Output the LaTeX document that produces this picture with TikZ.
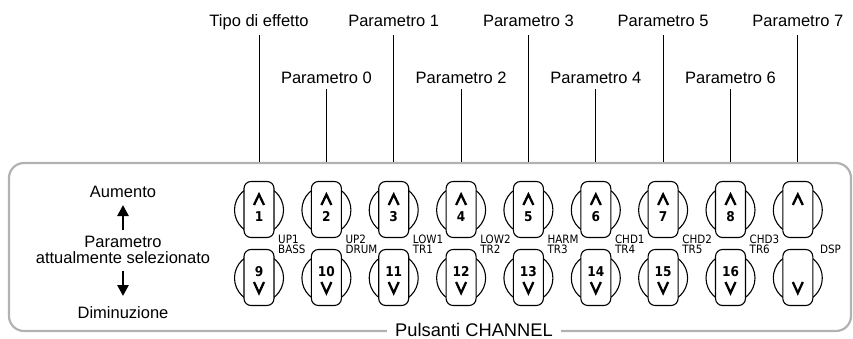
\documentclass[tikz,border=0pt]{standalone}
\usepackage{fontspec}
\setmainfont{Liberation Sans}
\newfontfamily\dinfont{DejaVu Sans Condensed}
\usetikzlibrary{arrows.meta}
\begin{document}
\begin{tikzpicture}[x=1pt,y=-1pt,
  lbl/.style={font=\fontsize{16.5}{16.5}\selectfont, inner sep=0pt, anchor=base},
  title/.style={font=\fontsize{18.3}{18.3}\selectfont, inner xsep=8.5pt, inner ysep=2pt, anchor=base, fill=white},
  small/.style={font=\dinfont\fontsize{11.5}{11.5}\selectfont, inner sep=0pt, anchor=base west},
  num/.style={font=\dinfont\bfseries\fontsize{13.5}{13.5}\selectfont, inner sep=0pt, anchor=base},
  ring/.style={draw, circle, minimum size=49pt, inner sep=0pt, line width=1.1pt},
  keybox/.style={draw, fill=white, rounded corners=7pt, minimum width=30pt, minimum height=56pt, inner sep=0pt, line width=1.1pt},
  chev/.style={line width=2.3pt, line join=miter},
  conn/.style={line width=1pt},
  bigarrow/.style={line width=2.6pt, -{Triangle[width=11pt,length=11pt]}},
  panel/.style={draw=black!30, line width=2.2pt, rounded corners=15pt}
]
\useasboundingbox (0,0) rectangle (853,339);

% panel
\draw[panel] (9,163) rectangle (851,331);
\node[title] (ttl) at (474,336.5) {Pulsanti CHANNEL};

% buttons
\foreach \i/\x in {1/259,2/326.4,3/393.7,4/461.1,5/528.4,6/595.8,7/663.1,8/730.5,9/797.8}{
  \node[ring] (ru\i) at (\x,210) {};
  \node[keybox] (ku\i) at (\x,209.5) {};
  \node[ring] (rd\i) at (\x,278) {};
  \node[keybox] (kd\i) at (\x,277.5) {};
  \draw[chev] ([shift={(-5pt,4.5pt)}]ku\i.center) -- ++(5pt,10.5pt) -- ++(5pt,-10.5pt);
  \draw[chev] ([shift={(-5pt,-4.5pt)}]kd\i.center) -- ++(5pt,-11pt) -- ++(5pt,11pt);
  \coordinate (t\i) at (\x,162);
}
\foreach \i/\n in {1/1,2/2,3/3,4/4,5/5,6/6,7/7,8/8}{
  \node[num] (nu\i) at ([yshift=-12.2pt]ku\i.center) {\n};
}
\foreach \i/\n in {1/9,2/10,3/11,4/12,5/13,6/14,7/15,8/16}{
  \node[num] (nd\i) at ([yshift=1.5pt]kd\i.center) {\n};
}

% small labels
\foreach \i/\a/\b in {1/UP1/BASS,2/UP2/DRUM,3/LOW1/TR1,4/LOW2/TR2,5/HARM/TR3,6/CHD1/TR4,7/CHD2/TR5,8/CHD3/TR6}{
  \node[small] (sa\i) at ([shift={(19pt,-33.5pt)}]ku\i.center) {\a};
  \node[small] (sb\i) at ([shift={(19pt,-43.8pt)}]ku\i.center) {\b};
}
\node[small] (dsp) at (820,253.3) {DSP};

% top labels
\node[lbl] (L1) at (259,27) {Tipo di effetto};
\node[lbl] (L3) at (393.7,27) {Parametro 1};
\node[lbl] (L5) at (528.4,27) {Parametro 3};
\node[lbl] (L7) at (663.1,27) {Parametro 5};
\node[lbl] (L9) at (797.8,27) {Parametro 7};
\node[lbl] (L2) at (326.4,84) {Parametro 0};
\node[lbl] (L4) at (461.1,84) {Parametro 2};
\node[lbl] (L6) at (595.8,84) {Parametro 4};
\node[lbl] (L8) at (730.5,84) {Parametro 6};
\foreach \i in {1,3,5,7,9}{ \draw[conn] ([yshift=-8pt]L\i.base) -- (t\i); }
\foreach \i in {2,4,6,8}{ \draw[conn] ([yshift=-5.5pt]L\i.base) -- (t\i); }

% left legend
\node[lbl] (aum) at (123,197) {Aumento};
\node[lbl] (par) at (123,247) {Parametro};
\node[lbl] (att) at (123,263.5) {attualmente selezionato};
\node[lbl] (dim) at (123,318.5) {Diminuzione};
\draw[bigarrow] ([yshift=17pt]par.base) -- ([yshift=-8pt]aum.base);
\draw[bigarrow] ([yshift=-7pt]att.base) -- ([yshift=22.5pt]dim.base);
\end{tikzpicture}
\end{document}
